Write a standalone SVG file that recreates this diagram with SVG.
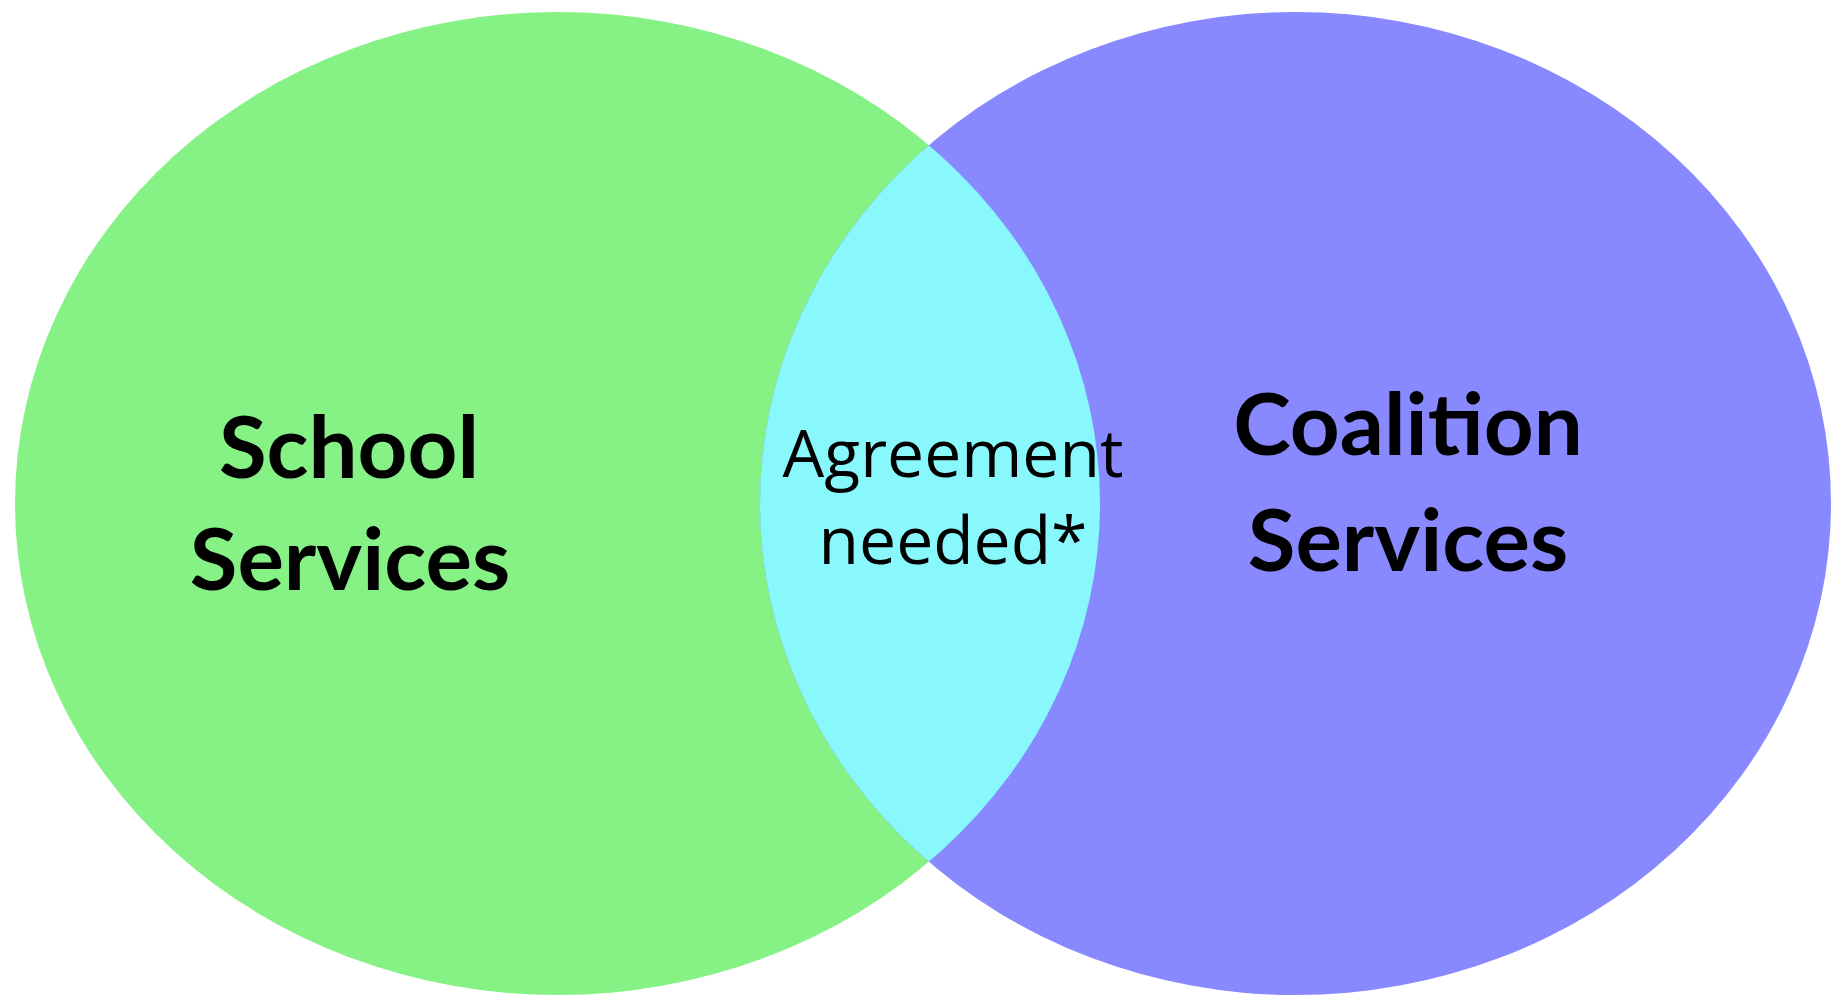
<svg xmlns="http://www.w3.org/2000/svg" width="1840" height="997" viewBox="0 0 1840 997">
<style>
.b{font-family:Lato,"Open Sans",sans-serif;font-weight:bold;font-size:87px;fill:#000;text-anchor:middle}
.r{font-family:"Open Sans",sans-serif;font-size:66px;fill:#000;text-anchor:middle}
</style>
<defs>
<clipPath id="cl"><ellipse cx="557.5" cy="503.5" rx="542.5" ry="491.5"/></clipPath>
</defs>
<rect width="1840" height="997" fill="#fff"/>
<g id="school">
<ellipse cx="557.5" cy="503.5" rx="542.5" ry="491.5" fill="#86F286"/>
</g>
<g id="coalition">
<ellipse cx="1295.5" cy="503.5" rx="535.5" ry="491.5" fill="#8888FF"/>
</g>
<g id="overlap">
<ellipse cx="1295.5" cy="503.5" rx="535.5" ry="491.5" fill="#88F8FC" clip-path="url(#cl)"/>
</g>
<g id="labels">
<text class="b" x="349" y="478">School</text>
<text class="b" x="350" y="590">Services</text>
<text class="b" x="1408" y="455">Coalition</text>
<text class="b" x="1408" y="571">Services</text>
<text class="r" x="953" y="477">Agreement</text>
<text class="r" x="953" y="564">needed*</text>
</g>
<g id="connectors"/>
</svg>
